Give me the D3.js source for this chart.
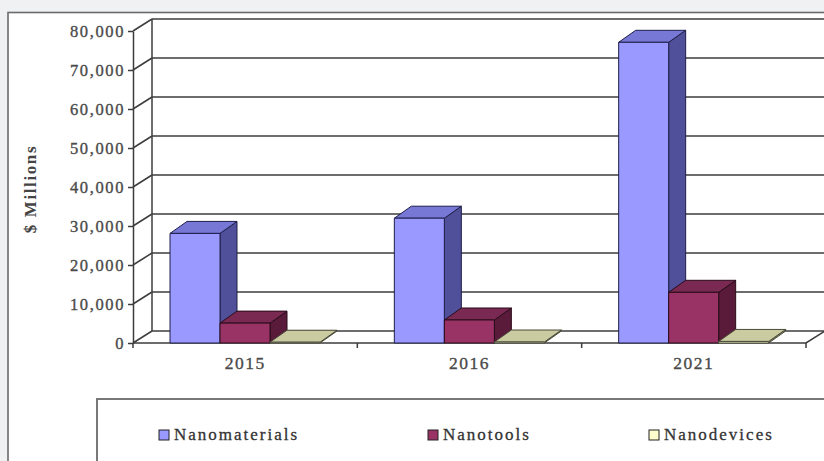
<!DOCTYPE html>
<html>
<head>
<meta charset="utf-8">
<script src="https://cdn.jsdelivr.net/npm/d3@7"></script>
<style>
    html, body { margin: 0; padding: 0; background: #eff1f3; overflow: hidden; }
    svg { display: block; font-family: "Liberation Serif", "Times New Roman", serif; }
    .tick text { fill: #4a4a4a; }
</style>
</head>
<body>
<svg id="chart" width="824" height="461"></svg>
<script>
const years = ['2015', '2016', '2021'];
const series = ['Nanomaterials', 'Nanotools', 'Nanodevices'];
const nanomaterials = [28100, 32000, 77100];
const nanotools = [5100, 5900, 13000];
const nanodevices = [200, 250, 400];
const yTicks = [0, 10000, 20000, 30000, 40000, 50000, 60000, 70000, 80000];

const values = [nanomaterials, nanotools, nanodevices];
const colors = [
    { front: '#9999ff', top: '#7777d6', side: '#50509a', line: '#1e1e4a' },
    { front: '#993366', top: '#7a2a52', side: '#5a1b3a', line: '#2a0c1a' },
    { front: '#ffffcc', top: '#cbcba2', side: '#8c8c6c', line: '#4a4a3a' }
];

const svg = d3.select('#chart');

// outer white panel
svg.append('rect')
    .attr('x', 8).attr('y', 12.5)
    .attr('width', 830).attr('height', 470)
    .attr('fill', '#fff')
    .attr('stroke', '#6a6a6a')
    .attr('stroke-width', 1.6);

const x0 = 133, x1 = 806, wallDx = 19, wallDy = -12;
const barDx = 17, barDy = -12;

const y = d3.scaleLinear().domain([0, 80000]).range([343, 31]);
const x = d3.scaleBand().domain(years).range([x0, x1]);
const xs = d3.scaleBand().domain(series).range([37, 187]);

const grid = svg.append('g')
    .attr('fill', 'none')
    .attr('stroke', '#3c3c3c')
    .attr('stroke-width', 1.5);

// back wall + side wall gridlines
yTicks.forEach(t => {
    grid.append('line')
        .attr('x1', x0 + wallDx).attr('y1', y(t) + wallDy)
        .attr('x2', 830).attr('y2', y(t) + wallDy);
    grid.append('line')
        .attr('x1', x0).attr('y1', y(t))
        .attr('x2', x0 + wallDx).attr('y2', y(t) + wallDy);
});

// back wall left edge
grid.append('line')
    .attr('x1', x0 + wallDx).attr('y1', y(80000) + wallDy)
    .attr('x2', x0 + wallDx).attr('y2', y(0) + wallDy);

// floor
grid.append('path')
    .attr('d', `M${x0},${y(0)}L${x1},${y(0)}L${x1 + wallDx},${y(0) + wallDy}`);

// x boundary ticks
[...years.map(d => x(d)), x1].forEach(v => {
    grid.append('line')
        .attr('x1', v).attr('y1', y(0))
        .attr('x2', v).attr('y2', y(0) + 5);
});

// y axis
const yAxis = svg.append('g')
    .attr('transform', `translate(${x0},0)`)
    .call(d3.axisLeft(y)
        .tickValues(yTicks)
        .tickFormat(d3.format(','))
        .tickSize(5)
        .tickSizeOuter(0)
        .tickPadding(3));
yAxis.select('.domain').attr('stroke', '#3c3c3c').attr('stroke-width', 1.5);
yAxis.selectAll('.tick line').attr('stroke', '#3c3c3c').attr('stroke-width', 1.5);
yAxis.selectAll('.tick text')
    .attr('font-size', 16.5)
    .attr('letter-spacing', 1.6)
    .attr('stroke', '#4a4a4a')
    .attr('stroke-width', 0.35)
    .attr('font-family', '"Liberation Serif", serif');

// x axis labels
const xAxis = svg.append('g')
    .attr('transform', `translate(0,${y(0)})`)
    .call(d3.axisBottom(x).tickSize(0).tickPadding(14));
xAxis.select('.domain').remove();
xAxis.selectAll('.tick text')
    .attr('font-size', 17.5)
    .attr('letter-spacing', 1.5)
    .attr('stroke', '#4a4a4a')
    .attr('stroke-width', 0.35)
    .attr('font-family', '"Liberation Serif", serif');

// y title
svg.append('text')
    .attr('transform', 'translate(36,189)rotate(-90)')
    .attr('text-anchor', 'middle')
    .attr('font-size', 17)
    .attr('font-weight', 'bold')
    .attr('letter-spacing', 1.6)
    .attr('fill', '#444')
    .text('$ Millions');

// bars
const bars = svg.append('g').attr('stroke-width', 1).attr('stroke-linejoin', 'round');
years.forEach((yr, i) => {
    series.forEach((s, j) => {
        const c = colors[j];
        const left = x(yr) + xs(s);
        const right = left + xs.bandwidth();
        const top = y(values[j][i]);
        const bottom = y(0);
        const g = bars.append('g').attr('stroke', c.line);
        g.append('path')
            .attr('fill', c.side)
            .attr('d', `M${right},${bottom}L${right + barDx},${bottom + barDy}L${right + barDx},${top + barDy}L${right},${top}Z`);
        g.append('path')
            .attr('fill', c.top)
            .attr('d', `M${left},${top}L${left + barDx},${top + barDy}L${right + barDx},${top + barDy}L${right},${top}Z`);
        g.append('rect')
            .attr('fill', c.front)
            .attr('x', left).attr('y', top)
            .attr('width', xs.bandwidth()).attr('height', Math.max(0, bottom - top));
    });
});

// legend
svg.append('rect')
    .attr('x', 97).attr('y', 399)
    .attr('width', 760).attr('height', 100)
    .attr('fill', '#fff')
    .attr('stroke', '#6a6a6a')
    .attr('stroke-width', 1.8);

const legendX = [159, 428, 649];
const legend = svg.append('g')
    .selectAll('g')
    .data(series)
    .enter().append('g')
    .attr('transform', (d, i) => `translate(${legendX[i]},430)`);

legend.append('rect')
    .attr('width', 10).attr('height', 10)
    .attr('fill', (d, i) => colors[i].front)
    .attr('stroke', '#222')
    .attr('stroke-width', 1);

legend.append('text')
    .attr('x', 15).attr('y', 10)
    .attr('font-size', 17)
    .attr('letter-spacing', 2)
    .attr('fill', '#333')
    .attr('stroke', '#333')
    .attr('stroke-width', 0.3)
    .text(d => d);
</script>
</body>
</html>
